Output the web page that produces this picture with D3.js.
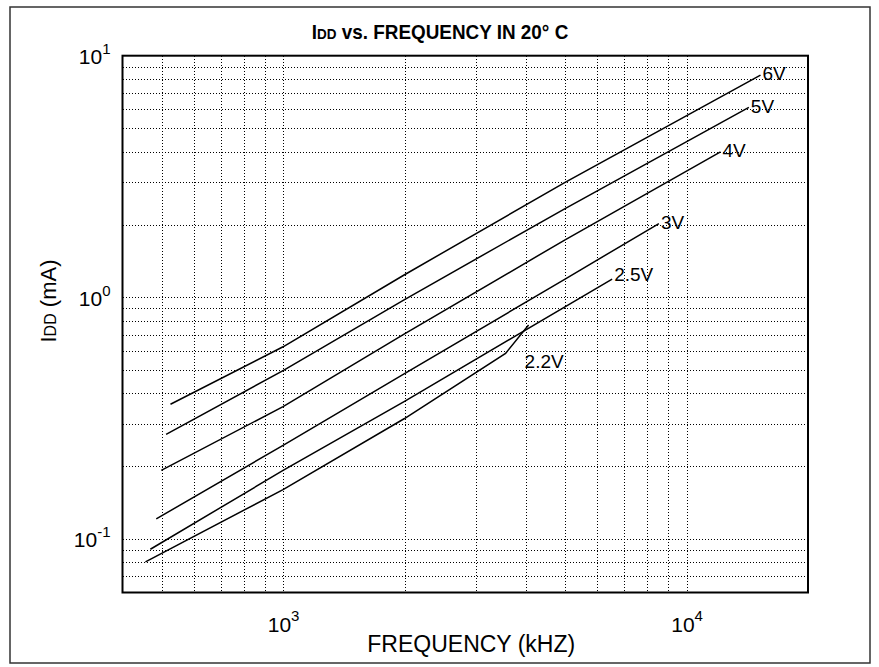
<!DOCTYPE html>
<html>
<head>
<meta charset="utf-8">
<script src="https://cdn.jsdelivr.net/npm/d3@7"></script>
<style>
  body { margin: 0; background: #fff; }
  svg { display: block; font-family: "Liberation Sans", Arial, sans-serif; }
</style>
</head>
<body>
<svg id="chart" width="879" height="667"></svg>
<script>
// curves (frequency in kHz, IDD in mA)
const seriesNames = ["6V", "5V", "4V", "3V", "2.5V", "2.2V"];
const freq6V = [526, 1000, 2000, 5000, 15250];
const idd6V = [0.361, 0.624, 1.24, 2.99, 8.31];
const freq5V = [513, 1000, 2000, 5000, 14270];
const idd5V = [0.271, 0.497, 0.979, 2.33, 6.11];
const freq4V = [499, 1000, 2000, 5000, 12140];
const idd4V = [0.192, 0.353, 0.705, 1.73, 4.0];
const freq3V = [485, 1000, 2000, 5000, 8540];
const idd3V = [0.121, 0.244, 0.483, 1.19, 2.02];
const freq25V = [469, 1000, 2000, 6540];
const idd25V = [0.0906, 0.192, 0.371, 1.19];
const freq22V = [456, 1000, 2000, 3560, 4060];
const idd22V = [0.0803, 0.16, 0.315, 0.586, 0.768];

const xTicks = [1000, 10000];
const xTickExp = ["3", "4"];
const yTicks = [10, 1, 0.1];
const yTickExp = ["1", "0", "-1"];

const allFreq = [freq6V, freq5V, freq4V, freq3V, freq25V, freq22V];
const allIdd = [idd6V, idd5V, idd4V, idd3V, idd25V, idd22V];

const svg = d3.select("#chart");
const M = { left: 122.5, right: 808, top: 55.7, bottom: 592.5 };

const x = d3.scaleLog().domain([400, 20000]).range([M.left, M.right]);
const y = d3.scaleLog().domain([0.06, 10]).range([M.bottom, M.top]);

// outer frame
svg.append("rect")
  .attr("x", 10).attr("y", 7)
  .attr("width", 860).attr("height", 656)
  .attr("fill", "none")
  .attr("stroke", "#333")
  .attr("stroke-width", 1.5);

// dotted grid
const g = svg.append("g");
const xd = x.domain(), yd = y.domain();
g.selectAll(".vgrid")
  .data(x.ticks().filter(d => d > xd[0] && d < xd[1]))
  .enter().append("line")
  .attr("class", "vgrid")
  .attr("x1", d => Math.round(x(d)) + 0.5).attr("x2", d => Math.round(x(d)) + 0.5)
  .attr("y1", M.top).attr("y2", M.bottom)
  .attr("stroke", "#000")
  .attr("stroke-width", 1)
  .attr("stroke-dasharray", "1.5,1.5")
  .attr("shape-rendering", "crispEdges");

g.selectAll(".hgrid")
  .data(y.ticks().filter(d => d > yd[0] * 1.001 && d < yd[1] * 0.999))
  .enter().append("line")
  .attr("class", "hgrid")
  .attr("x1", M.left).attr("x2", M.right)
  .attr("y1", d => Math.round(y(d)) + 0.5).attr("y2", d => Math.round(y(d)) + 0.5)
  .attr("stroke", "#000")
  .attr("stroke-width", 1)
  .attr("stroke-dasharray", "1.5,1.5")
  .attr("shape-rendering", "crispEdges");

// curves
const line = d3.line()
  .x(d => x(d[0]))
  .y(d => y(d[1]));

seriesNames.forEach(function(name, i) {
  const pts = allFreq[i].map((f, j) => [f, allIdd[i][j]]);
  g.append("path")
    .datum(pts)
    .attr("d", line)
    .attr("fill", "none")
    .attr("stroke", "#000")
    .attr("stroke-width", 1.5);
});

// curve labels next to the line ends
const labelOffset = [[2, 5], [2, 6], [2, 5], [2, 5], [2, 1.5], [-4, 43]];
seriesNames.forEach(function(name, i) {
  const n = allFreq[i].length - 1;
  svg.append("text")
    .attr("x", x(allFreq[i][n]) + labelOffset[i][0])
    .attr("y", y(allIdd[i][n]) + labelOffset[i][1])
    .style("font-size", "19px")
    .text(name);
});

// plot box
svg.append("rect")
  .attr("x", M.left).attr("y", M.top)
  .attr("width", M.right - M.left).attr("height", M.bottom - M.top)
  .attr("fill", "none")
  .attr("stroke", "#000")
  .attr("stroke-width", 2);

// y axis: 10^n labels
const yAxis = svg.append("g")
  .attr("transform", `translate(${M.left},0)`)
  .call(d3.axisLeft(y).tickValues(yTicks).tickSize(0).tickFormat(() => ""));
yAxis.select(".domain").remove();
yAxis.selectAll(".tick text").each(function(d, i) {
  const t = d3.select(this)
    .attr("x", -12).attr("y", 8).attr("dy", null)
    .attr("text-anchor", "end")
    .attr("fill", "#000");
  t.append("tspan").style("font-size", "21px").text("10");
  t.append("tspan").attr("dy", -10).style("font-size", "15px").text(yTickExp[i]);
});
yAxis.attr("font-family", null).attr("font-size", null);

// x axis: 10^n labels
const xAxis = svg.append("g")
  .attr("transform", `translate(0,${M.bottom})`)
  .call(d3.axisBottom(x).tickValues(xTicks).tickSize(0).tickFormat(() => ""));
xAxis.select(".domain").remove();
xAxis.selectAll(".tick text").each(function(d, i) {
  const t = d3.select(this)
    .attr("y", 39).attr("dy", null)
    .attr("text-anchor", "middle")
    .attr("fill", "#000");
  t.append("tspan").style("font-size", "21px").text("10");
  t.append("tspan").attr("dy", -11).style("font-size", "15px").text(xTickExp[i]);
});
xAxis.attr("font-family", null).attr("font-size", null);

// axis titles
svg.append("text")
  .attr("x", (M.left + M.right) / 2 + 6)
  .attr("y", 652)
  .attr("text-anchor", "middle")
  .style("font-size", "23px")
  .text("FREQUENCY (kHZ)");

const yTitle = svg.append("text")
  .attr("transform", "translate(56,301) rotate(-90)")
  .attr("text-anchor", "middle")
  .style("font-size", "22px");
yTitle.append("tspan").text("I");
yTitle.append("tspan").style("font-size", "16px").text("DD");
yTitle.append("tspan").text(" (mA)");

// chart title
const title = svg.append("text")
  .attr("transform", "translate(440,39) scale(0.9,1)")
  .attr("text-anchor", "middle")
  .style("font-size", "21px")
  .style("font-weight", "bold");
title.append("tspan").text("I");
title.append("tspan").style("font-size", "15px").text("DD");
title.append("tspan").text(" vs. FREQUENCY IN 20\u00b0 C");
</script>
</body>
</html>
